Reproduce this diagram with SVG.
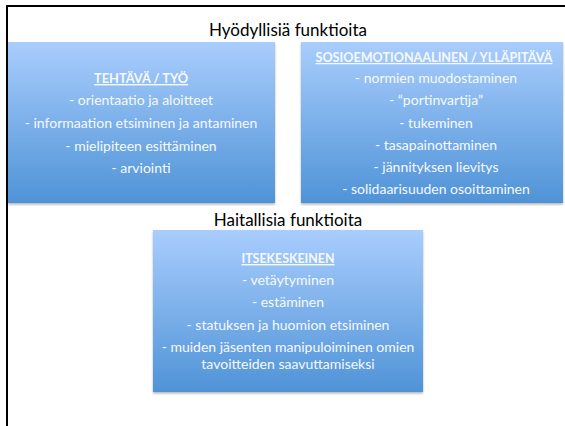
<svg xmlns="http://www.w3.org/2000/svg" width="565" height="426" viewBox="0 0 565 426">
<defs>
<linearGradient id="g" x1="0" y1="0" x2="0" y2="1">
<stop offset="0" stop-color="#a9cdfd"/>
<stop offset="1" stop-color="#4f93d7"/>
</linearGradient>
<filter id="sh" x="-5%" y="-5%" width="110%" height="115%">
<feDropShadow dx="0" dy="1.5" stdDeviation="1" flood-color="#000" flood-opacity="0.3"/>
</filter>
</defs>
<style>
.box{fill:url(#g);filter:url(#sh)}
.title{font-family:Lato,"Open Sans","DejaVu Sans",sans-serif;font-size:17px;fill:#000;text-anchor:middle}
.t{font-family:Lato,"Open Sans","DejaVu Sans",sans-serif;font-size:14px;fill:#f6f9ff;text-anchor:middle}
.h{font-weight:bold;text-decoration:underline}
</style>
<rect width="565" height="426" fill="#fff"/>
<path d="M7 426 V6 H565" fill="none" stroke="#000" stroke-width="2"/>
<text class="title" x="288" y="36">Hyödyllisiä funktioita</text>
<g id="tehtava">
<rect class="box" x="8" y="42" width="267" height="161"/>
<text class="t h" x="141" y="83" textLength="94" lengthAdjust="spacingAndGlyphs">TEHTÄVÄ / TYÖ</text>
<text class="t" x="141" y="105">- orientaatio ja aloitteet</text>
<text class="t" x="141" y="128">- informaation etsiminen ja antaminen</text>
<text class="t" x="141" y="151">- mielipiteen esittäminen</text>
<text class="t" x="141" y="173">- arviointi</text>
</g>
<g id="sosio">
<rect class="box" x="301" y="42" width="262" height="161"/>
<text class="t h" x="434" y="62" style="font-size:12.6px">SOSIOEMOTIONAALINEN / YLLÄPITÄVÄ</text>
<text class="t" x="436" y="83">- normien muodostaminen</text>
<text class="t" x="436" y="105">- “portinvartija”</text>
<text class="t" x="436" y="128">- tukeminen</text>
<text class="t" x="436" y="150">- tasapainottaminen</text>
<text class="t" x="436" y="172">- jännityksen lievitys</text>
<text class="t" x="436" y="194">- solidaarisuuden osoittaminen</text>
</g>
<text class="title" x="288" y="226">Haitallisia funktioita</text>
<g id="itse">
<rect class="box" x="153" y="230" width="270" height="162"/>
<text class="t h" x="288" y="263" textLength="93" lengthAdjust="spacingAndGlyphs">ITSEKESKEINEN</text>
<text class="t" x="288" y="285">- vetäytyminen</text>
<text class="t" x="288" y="307">- estäminen</text>
<text class="t" x="288" y="330">- statuksen ja huomion etsiminen</text>
<text class="t" x="288" y="352">- muiden jäsenten manipuloiminen omien</text>
<text class="t" x="288" y="369">tavoitteiden saavuttamiseksi</text>
</g>
<g id="connectors"/>
</svg>
